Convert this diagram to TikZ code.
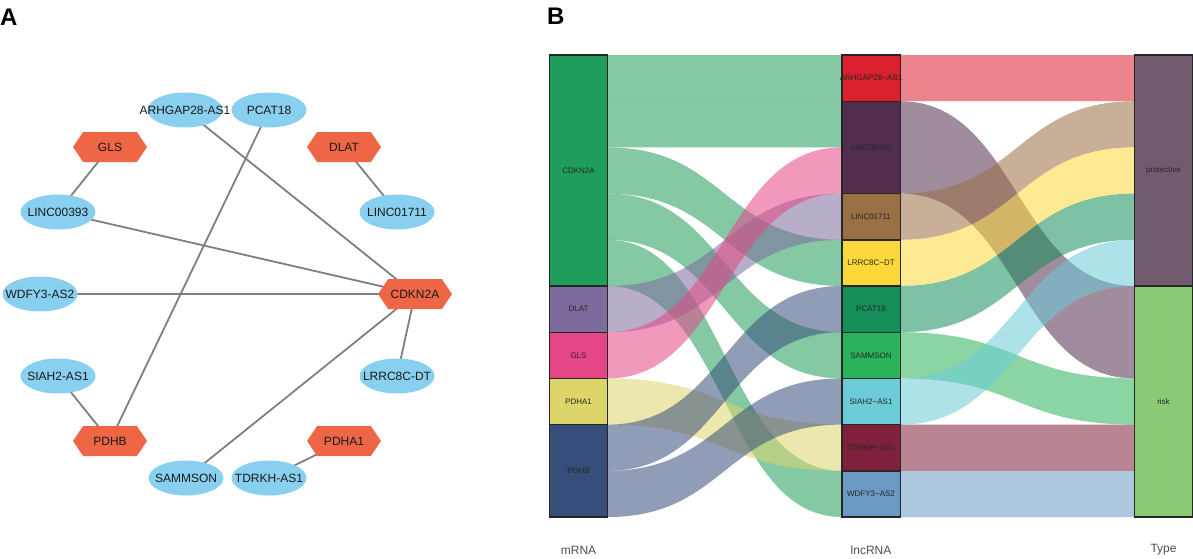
\documentclass[tikz,border=0pt]{standalone}
\usepackage{fontspec}
\setmainfont{Liberation Sans}
\usetikzlibrary{shapes.geometric,shapes.symbols,backgrounds}
\definecolor{lncblue}{HTML}{89CFF0}
\definecolor{hexred}{HTML}{EF6647}
\definecolor{edgegray}{HTML}{7F7F7F}
\definecolor{axisgray}{HTML}{4D4D4D}
\definecolor{cCDKN}{HTML}{1F9D5A}
\definecolor{cDLAT}{HTML}{7D6B9E}
\definecolor{cGLS}{HTML}{E44686}
\definecolor{cPDHA}{HTML}{DDD56A}
\definecolor{cPDHB}{HTML}{374D7A}
\definecolor{cARH}{HTML}{DA1F2E}
\definecolor{cLthree}{HTML}{532D4E}
\definecolor{cLone}{HTML}{9B6F44}
\definecolor{cLRRC}{HTML}{FDD83A}
\definecolor{cPCAT}{HTML}{168E5A}
\definecolor{cSAMM}{HTML}{2BB35B}
\definecolor{cSIAH}{HTML}{6BCBD7}
\definecolor{cTDRKH}{HTML}{7F213A}
\definecolor{cWDFY}{HTML}{6A99C3}
\definecolor{cProt}{HTML}{725B6E}
\definecolor{cRisk}{HTML}{8BC977}
\newcommand{\zw}[1]{\makebox[0pt]{#1}}
% band: x1, left slot, x2, right slot, number of slots, colour
\newcommand{\flowband}[6]{%
  \fill[#6, fill opacity=0.55]
    (#1,{55+46.2*#2}) .. controls ({(#1+#3)/2},{55+46.2*#2}) and ({(#1+#3)/2},{55+46.2*#4}) .. (#3,{55+46.2*#4})
    -- (#3,{55+46.2*(#4+#5)}) .. controls ({(#1+#3)/2},{55+46.2*(#4+#5)}) and ({(#1+#3)/2},{55+46.2*(#2+#5)}) .. (#1,{55+46.2*(#2+#5)})
    -- cycle;}
\begin{document}
\begin{tikzpicture}[x=1pt,y=-1pt,
  lnc/.style={ellipse, fill=lncblue, minimum width=75pt, minimum height=35pt, inner sep=0pt,
    font=\fontsize{12}{14}\selectfont, text=black!90},
  gene/.style={signal, signal to=east and west, signal pointer angle=112, fill=hexred,
    minimum width=74pt, minimum height=30pt, inner sep=0pt, font=\fontsize{12}{14}\selectfont, text=black!90},
  net/.style={draw=edgegray, line width=1.8pt},
  bar/.style={draw=black!85, line width=1.4pt, minimum width=58.4pt, inner sep=0pt,
    font=\fontsize{8}{9}\selectfont, text=black!85},
  axislab/.style={font=\fontsize{12}{14}\selectfont, text=axisgray, inner sep=0pt},
  panel/.style={font=\fontsize{24}{26}\selectfont\bfseries, inner sep=0pt, anchor=base west}]
\useasboundingbox (0,0) rectangle (1193,558);

% ---------- Panel A ----------
\node[panel] (labA) at (0,25) {A};
\node[lnc] (arh) at (185,110) {\zw{ARHGAP28-AS1}};
\node[lnc] (pcat) at (269,110) {\zw{PCAT18}};
\node[gene] (gls) at (110,147) {GLS};
\node[gene] (dlat) at (344,147) {DLAT};
\node[lnc] (l393) at (58,212) {\zw{LINC00393}};
\node[lnc] (l1711) at (397,212) {\zw{LINC01711}};
\node[lnc] (wdfy) at (40,294) {\zw{WDFY3-AS2}};
\node[gene] (cdkn) at (415,294) {CDKN2A};
\node[lnc] (siah) at (58,376) {\zw{SIAH2-AS1}};
\node[lnc] (lrrc) at (397,376) {\zw{LRRC8C-DT}};
\node[gene] (pdhb) at (110,441) {PDHB};
\node[gene] (pdha) at (344,441) {PDHA1};
\node[lnc] (samm) at (186,478) {\zw{SAMMSON}};
\node[lnc] (tdrkh) at (269,478) {\zw{TDRKH-AS1}};
\begin{scope}[on background layer]
\draw[net] (arh.center) -- (cdkn.center);
\draw[net] (l393.center) -- (cdkn.center);
\draw[net] (wdfy.center) -- (cdkn.center);
\draw[net] (lrrc.center) -- (cdkn.center);
\draw[net] (samm.center) -- (cdkn.center);
\draw[net] (gls.center) -- (l393.center);
\draw[net] (dlat.center) -- (l1711.center);
\draw[net] (pcat.center) -- (pdhb.center);
\draw[net] (siah.center) -- (pdhb.center);
\draw[net] (pdha.center) -- (tdrkh.center);
\end{scope}

% ---------- Panel B ----------
\node[panel] (labB) at (547,24) {B};
% mRNA -> lncRNA flows
\flowband{607.7}{0}{841.7}{0}{1}{cCDKN}
\flowband{607.7}{1}{841.7}{1}{1}{cCDKN}
\flowband{607.7}{2}{841.7}{4}{1}{cCDKN}
\flowband{607.7}{3}{841.7}{6}{1}{cCDKN}
\flowband{607.7}{4}{841.7}{9}{1}{cCDKN}
\flowband{607.7}{5}{841.7}{3}{1}{cDLAT}
\flowband{607.7}{6}{841.7}{2}{1}{cGLS}
\flowband{607.7}{7}{841.7}{8}{1}{cPDHA}
\flowband{607.7}{8}{841.7}{5}{1}{cPDHB}
\flowband{607.7}{9}{841.7}{7}{1}{cPDHB}
% lncRNA -> Type flows
\flowband{900.3}{0}{1134.3}{0}{1}{cARH}
\flowband{900.3}{1}{1134.3}{5}{2}{cLthree}
\flowband{900.3}{3}{1134.3}{1}{1}{cLone}
\flowband{900.3}{4}{1134.3}{2}{1}{cLRRC}
\flowband{900.3}{5}{1134.3}{3}{1}{cPCAT}
\flowband{900.3}{6}{1134.3}{7}{1}{cSAMM}
\flowband{900.3}{7}{1134.3}{4}{1}{cSIAH}
\flowband{900.3}{8}{1134.3}{8}{1}{cTDRKH}
\flowband{900.3}{9}{1134.3}{9}{1}{cWDFY}
% mRNA strata
\node[bar, fill=cCDKN, minimum height=231pt] (sCDKN) at (578.5,170.5) {CDKN2A};
\node[bar, fill=cDLAT, minimum height=46.2pt] (sDLAT) at (578.5,309.1) {DLAT};
\node[bar, fill=cGLS, minimum height=46.2pt] (sGLS) at (578.5,355.3) {GLS};
\node[bar, fill=cPDHA, minimum height=46.2pt] (sPDHA) at (578.5,401.5) {PDHA1};
\node[bar, fill=cPDHB, minimum height=92.4pt] (sPDHB) at (578.5,470.8) {PDHB};
% lncRNA strata
\node[bar, fill=cARH, minimum height=46.2pt] (sARH) at (871,78.1) {\zw{ARHGAP28−AS1}};
\node[bar, fill=cLthree, minimum height=92.4pt] (sL393) at (871,147.4) {LINC00393};
\node[bar, fill=cLone, minimum height=46.2pt] (sL1711) at (871,216.7) {LINC01711};
\node[bar, fill=cLRRC, minimum height=46.2pt] (sLRRC) at (871,262.9) {LRRC8C−DT};
\node[bar, fill=cPCAT, minimum height=46.2pt] (sPCAT) at (871,309.1) {PCAT18};
\node[bar, fill=cSAMM, minimum height=46.2pt] (sSAMM) at (871,355.3) {SAMMSON};
\node[bar, fill=cSIAH, minimum height=46.2pt] (sSIAH) at (871,401.5) {SIAH2−AS1};
\node[bar, fill=cTDRKH, minimum height=46.2pt] (sTDRKH) at (871,447.7) {TDRKH−AS1};
\node[bar, fill=cWDFY, minimum height=46.2pt] (sWDFY) at (871,493.9) {WDFY3−AS2};
% Type strata
\node[bar, fill=cProt, minimum height=231pt] (sProt) at (1163.5,170.5) {protective};
\node[bar, fill=cRisk, minimum height=231pt] (sRisk) at (1163.5,401.5) {risk};
% axis labels
\node[axislab] (axM) at (578.5,550) {mRNA};
\node[axislab] (axL) at (871,550) {lncRNA};
\node[axislab] (axT) at (1163.5,550) {Type};
\end{tikzpicture}
\end{document}
